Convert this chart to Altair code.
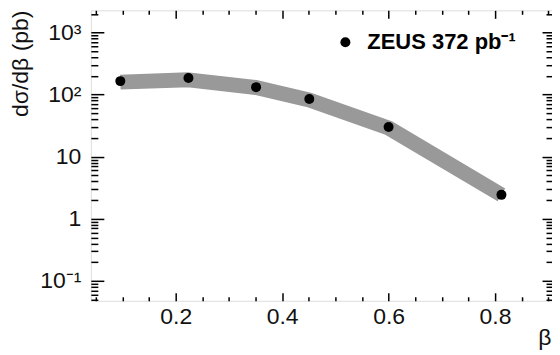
import altair as alt
import pandas as pd

# ---- data ----
beta = [0.096, 0.224, 0.351, 0.451, 0.600, 0.812]
xsec = [165, 185, 132, 85, 30, 2.43]
theory = [159, 173, 130, 82, 29, 2.43]
series = ["ZEUS 372 pb\u207b\u00b9"] * len(beta)

x_major = [0.2, 0.4, 0.6, 0.8]
x_minor = [0.05, 0.1, 0.15, 0.25, 0.3, 0.35, 0.45, 0.5, 0.55, 0.65, 0.7, 0.75, 0.85, 0.9]
y_major = [0.1, 1, 10, 100, 1000]
y_minor = [0.05, 0.06, 0.07, 0.08, 0.09,
           0.2, 0.3, 0.4, 0.5, 0.6, 0.7, 0.8, 0.9,
           2, 3, 4, 5, 6, 7, 8, 9,
           20, 30, 40, 50, 60, 70, 80, 90,
           200, 300, 400, 500, 600, 700, 800, 900, 2000]

X_DOMAIN = [0.0406, 0.907]
Y_DOMAIN = [0.0478, 2280]

FONT = "Liberation Sans"

df = pd.DataFrame({"beta": beta, "xs": xsec, "th": theory, "series": series})

xs = alt.Scale(domain=X_DOMAIN, nice=False, zero=False)
ys = alt.Scale(type="log", domain=Y_DOMAIN, nice=False)

band = alt.Chart(df).mark_line(
    color="#999999", strokeWidth=15, strokeCap="butt", strokeJoin="round"
).encode(
    x=alt.X("beta:Q", scale=xs, axis=None),
    y=alt.Y("th:Q", scale=ys, axis=None),
)

points = alt.Chart(df).mark_circle(size=100, opacity=1).encode(
    x=alt.X("beta:Q", scale=xs, axis=None),
    y=alt.Y("xs:Q", scale=ys, axis=None),
    color=alt.Color(
        "series:N",
        scale=alt.Scale(range=["black"]),
        legend=alt.Legend(
            orient="none", legendX=244, legendY=21, title=None,
            labelFont=FONT, labelFontSize=22, labelFontWeight="bold",
            labelColor="black", symbolType="circle", symbolSize=100,
            symbolStrokeWidth=0, labelOffset=11, padding=0,
        ),
    ),
)


def tick_axis(orient, values, size, **kw):
    base = dict(orient=orient, values=values, tickSize=size, offset=-size,
                domain=False, grid=False, tickColor="black", tickWidth=1.5,
                labels=False, title=None)
    base.update(kw)
    return alt.Axis(**base)


def axis_layer(xaxis, yaxis):
    return alt.Chart(df).mark_point(opacity=0).encode(
        x=alt.X("beta:Q", scale=xs, axis=xaxis),
        y=alt.Y("xs:Q", scale=ys, axis=yaxis),
    )


label_expr = ("datum.value == 1000 ? '10\u00b3' : datum.value == 100 ? '10\u00b2' : "
              "datum.value == 0.1 ? '10\u207b\u00b9' : datum.label")

layer_a = axis_layer(
    tick_axis("bottom", x_major, 8, labels=True, format=".1f", labelFont=FONT,
              labelFontSize=23, labelColor="#111", labelPadding=5,
              labelFlush=False, labelOverlap=False,
              title="\u03b2", titleFont=FONT, titleFontSize=23,
              titleFontWeight="normal", titleColor="#111",
              titleX=461, titleY=52, titleAlign="right",
              titleBaseline="alphabetic"),
    tick_axis("left", y_major, 13, labels=True, labelExpr=label_expr,
              format="~g", labelFont=FONT, labelFontSize=23,
              labelColor="#111", labelPadding=10, labelFlush=False,
              labelOverlap=False,
              title="d\u03c3/d\u03b2 (pb)", titleFont=FONT, titleFontSize=23,
              titleFontWeight="normal", titleColor="#111",
              titleX=-83, titleY=53, titleAngle=-90, titleAlign="center",
              titleBaseline="middle"),
)
layer_b = axis_layer(tick_axis("bottom", x_minor, 4), tick_axis("left", y_minor, 7))
layer_c = axis_layer(tick_axis("top", x_major, 8), tick_axis("right", y_major, 10))
layer_d = axis_layer(tick_axis("top", x_minor, 4), tick_axis("right", y_minor, 6))

chart = alt.layer(band, points, layer_a, layer_b, layer_c, layer_d).resolve_scale(
    x="independent", y="independent"
).properties(
    width=462, height=291,
    autosize=alt.AutoSizeParams(type="none"),
    padding={"left": 83, "top": 2, "right": 0, "bottom": 53},
).configure_view(stroke="black", strokeWidth=2).configure(font=FONT)

chart.save("out.html", embed_options={"renderer": "svg", "actions": False})
